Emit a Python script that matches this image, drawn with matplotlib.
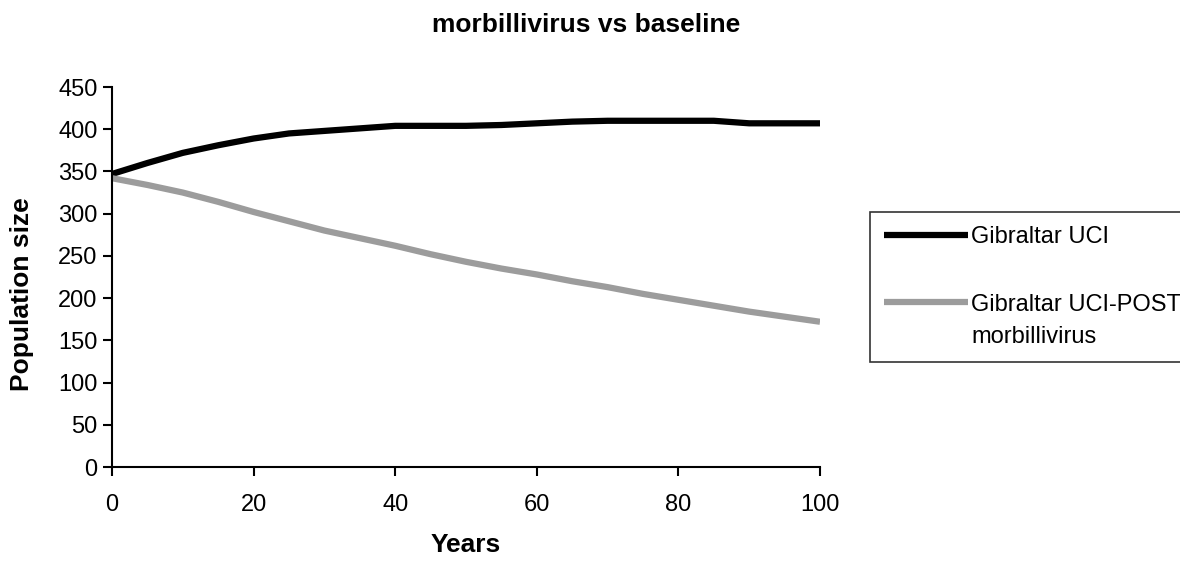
import matplotlib.pyplot as plt

plt.rcParams['font.family'] = ['Liberation Sans', 'DejaVu Sans']

# Values
years = [0, 5, 10, 15, 20, 25, 30, 35, 40, 45, 50, 55, 60, 65, 70, 75, 80, 85, 90, 95, 100]
baseline = [347, 360, 372, 381, 389, 395, 398, 401, 404, 404, 404, 405, 407, 409, 410, 410, 410, 410, 407, 407, 407]
post = [342, 334, 325, 314, 302, 291, 280, 271, 262, 252, 243, 235, 228, 220, 213, 205, 198, 191, 184, 178, 172]

labels = ["Gibraltar UCI", "Gibraltar UCI-POST\nmorbillivirus"]
yticks = list(range(0, 451, 50))
xticks = list(range(0, 101, 20))

W, H = 1180, 561
fs = 17
fs_title = 19
fig = plt.figure(figsize=(W / 100, H / 100), dpi=100)
ax = fig.add_axes([112 / W, 1 - 467 / H, (820 - 112) / W, (467 - 87) / H])

ax.plot(years, baseline, color="black", lw=4.5, label=labels[0], solid_capstyle="butt")
ax.plot(years, post, color="#9c9c9c", lw=4.5, label=labels[1], solid_capstyle="butt")

ax.set_xlim(0, 100)
ax.set_ylim(0, 450)
ax.set_xticks(xticks)
ax.set_yticks(yticks)
ax.tick_params(axis="both", labelsize=fs, width=1.5, length=6.5, direction="out")
ax.tick_params(axis="y", pad=4)
ax.tick_params(axis="x", pad=13)
for side in ["top", "right"]:
    ax.spines[side].set_visible(False)
for side in ["left", "bottom"]:
    ax.spines[side].set_linewidth(1.5)

fig.text(22 / W, 1 - 294 / H, "Population size", rotation=90, ha="center", va="center",
         fontsize=fs_title, fontweight="bold")
fig.text(466 / W, 1 - 545 / H, "Years", ha="center", va="center",
         fontsize=fs_title, fontweight="bold")
fig.text(586 / W, 1 - 25 / H, "morbillivirus vs baseline", ha="center", va="center",
         fontsize=fs_title, fontweight="bold")

leg = fig.legend(loc="upper left", bbox_to_anchor=(870 / W, 1 - 212 / H),
                 fontsize=fs, frameon=True, fancybox=False, handlelength=3.55,
                 handletextpad=0.13, borderpad=0.6, labelspacing=1.95, borderaxespad=0)
leg.get_frame().set_edgecolor("black")
leg.get_frame().set_linewidth(1.2)
for t in leg.get_texts():
    t.set_linespacing(1.55)
# second handle sits next to the first line of its two-line label
h2 = leg.legend_handles[1]
h2.set_ydata([y + 14 for y in h2.get_ydata()])

plt.savefig("out.png")
